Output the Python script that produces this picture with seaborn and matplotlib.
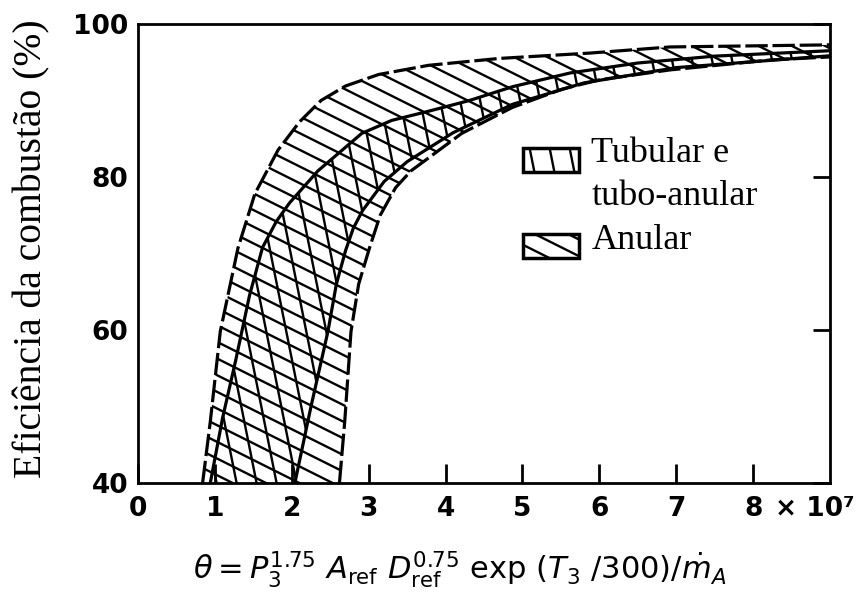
import warnings
import matplotlib
matplotlib.use("Agg")
import matplotlib.pyplot as plt
import matplotlib.hatch as mhatch
from matplotlib.path import Path
from matplotlib.patches import Patch, Rectangle
from matplotlib.legend_handler import HandlerPatch
import numpy as np
import seaborn as sns

warnings.filterwarnings("ignore", message=".*hatch must consist.*")

# band boundaries (theta in units of 1e7, efficiency in %)
anular_upper_theta = [0.84, 0.94, 1.07, 1.30, 1.52, 1.82, 2.10, 2.38, 2.70, 3.13, 3.78, 4.70, 5.88, 6.92, 9.2]
anular_upper_eff = [40, 48.0, 59.8, 70.7, 77.8, 83.5, 87.2, 90.0, 91.9, 93.4, 94.6, 95.5, 96.2, 97.0, 97.3]
anular_lower_theta = [2.62, 2.69, 2.77, 2.87, 3.01, 3.15, 3.35, 3.55, 3.78, 4.21, 4.87, 5.52, 6.0, 6.92, 8.23, 9.2]
anular_lower_eff = [40, 48.2, 59.8, 66.0, 70.7, 75.0, 78.6, 80.8, 82.5, 85.7, 89.1, 91.5, 92.7, 94.0, 95.3, 95.8]

tubular_upper_theta = [0.94, 1.10, 1.27, 1.45, 1.62, 1.80, 1.97, 2.34, 2.91, 3.30, 3.78, 4.31, 4.87, 5.62, 6.5, 7.5, 9.2]
tubular_upper_eff = [40, 48.5, 56.0, 64.5, 70.8, 74.2, 76.6, 80.8, 85.7, 87.4, 88.6, 90.0, 91.8, 93.6, 94.9, 95.8, 96.6]
tubular_lower_theta = [2.04, 2.25, 2.47, 2.58, 2.70, 2.80, 2.92, 3.20, 3.5, 4.1, 4.87, 5.8, 7.0, 9.2]
tubular_lower_eff = [40, 50, 59.8, 66.0, 70.4, 73.3, 75.6, 79.4, 82.0, 85.8, 89.5, 92.3, 94.3, 96.0]

x_ticks = [0, 1, 2, 3, 4, 5, 6, 7, 8]
y_ticks = [40, 60, 80, 100]
legend_labels = ["Tubular e", "tubo-anular", "Anular"]


# hatches with slopes matplotlib does not ship: 's' steep, 'h' shallow
class SteepHatch(mhatch.HatchPatternBase):
    def __init__(self, hatch, density):
        self.offsets = np.arange(-5, 11) / 5
        self.num_vertices = 2 * len(self.offsets) if "s" in hatch else 0

    def set_vertices_and_codes(self, vertices, codes):
        c = self.offsets
        vertices[0::2] = np.column_stack([c - 0.1, np.full(len(c), 1.5)])
        vertices[1::2] = np.column_stack([c + 0.3, np.full(len(c), -0.5)])
        codes[0::2] = Path.MOVETO
        codes[1::2] = Path.LINETO


class ShallowHatch(mhatch.HatchPatternBase):
    def __init__(self, hatch, density):
        self.offsets = np.arange(-6, 15) / 6
        self.num_vertices = 2 * len(self.offsets) if "h" in hatch else 0

    def set_vertices_and_codes(self, vertices, codes):
        c = self.offsets
        vertices[0::2] = np.column_stack([np.full(len(c), -0.5), c + 0.25])
        vertices[1::2] = np.column_stack([np.full(len(c), 1.5), c - 0.75])
        codes[0::2] = Path.MOVETO
        codes[1::2] = Path.LINETO


mhatch._hatch_types.extend([SteepHatch, ShallowHatch])


def lowered_box(legend, orig_handle, xdescent, ydescent, width, height, fontsize):
    # legend swatch sits on the text baseline, as in the source figure
    return Rectangle((-xdescent, -ydescent - 0.28 * fontsize), width, height)


sns.set_style("ticks")
plt.rcParams["font.family"] = ["DejaVu Sans"]
plt.rcParams["text.color"] = "black"
plt.rcParams["axes.labelcolor"] = "black"
plt.rcParams["hatch.linewidth"] = 1.7
plt.rcParams["hatch.color"] = "black"

fig = plt.figure(figsize=(8.65, 5.92), dpi=100)
ax = fig.add_axes([138 / 865, 1 - 483 / 592, 692 / 865, 459 / 592])

# hatched bands
ax.fill(anular_upper_theta + anular_lower_theta[::-1],
        anular_upper_eff + anular_lower_eff[::-1],
        facecolor="none", edgecolor="black", linewidth=0, hatch="h", zorder=1)
ax.fill(tubular_upper_theta + tubular_lower_theta[::-1],
        tubular_upper_eff + tubular_lower_eff[::-1],
        facecolor="none", edgecolor="black", linewidth=0, hatch="s", zorder=1)

# boundaries: dashed outer, solid inner
curves = [
    (anular_upper_theta, anular_upper_eff, (0, (7, 1.5))),
    (anular_lower_theta, anular_lower_eff, (0, (7, 1.5))),
    (tubular_upper_theta, tubular_upper_eff, "-"),
    (tubular_lower_theta, tubular_lower_eff, "-"),
]
for th, ef, ls in curves:
    sns.lineplot(x=th, y=ef, ax=ax, color="black", linewidth=2.3, linestyle=ls,
                 estimator=None, sort=False, legend=False, zorder=2)

ax.set_xlim(0, 9)
ax.set_ylim(40, 100)
ax.set_xticks(x_ticks)
ax.set_xticklabels([str(t) for t in x_ticks])
ax.set_yticks(y_ticks)
ax.tick_params(axis="x", direction="in", length=14, width=2, pad=9, top=False,
               labelsize=19, colors="black")
ax.tick_params(axis="y", direction="in", length=12, width=2, pad=7, left=False,
               right=True, labelsize=19, colors="black")
plt.setp(ax.get_xticklabels() + ax.get_yticklabels(), fontweight="bold")
for s in ax.spines.values():
    s.set_linewidth(2)
    s.set_color("black")

ax.annotate("× 10⁷", xy=(8, 0), xycoords=("data", "axes fraction"),
            xytext=(16, -9), textcoords="offset points", ha="left", va="top",
            fontsize=19, fontweight="bold")

ax.set_xlabel(r"$\theta = P_3^{1.75}\ A_{\rm ref}\ D_{\rm ref}^{0.75}\ {\rm exp}\ (T_3\ /300)/\dot{m}_A$",
              fontsize=22)
ax.xaxis.set_label_coords(0.465, -0.143)
ax.set_ylabel("Eficiência da combustão (%)", fontsize=28.5, family="Liberation Serif")
ax.yaxis.set_label_coords(-0.127, 0.511)

handles = [
    Patch(facecolor="white", edgecolor="black", hatch="s", linewidth=2.5),
    Patch(facecolor="none", edgecolor="none"),
    Patch(facecolor="white", edgecolor="black", hatch="h", linewidth=2.5),
]
ax.legend(handles, legend_labels, loc="upper left", bbox_to_anchor=(0.556, 0.753),
          frameon=False, prop={"family": "Liberation Serif", "size": 26},
          handlelength=1.55, handleheight=0.65, handletextpad=0.35,
          labelspacing=0.28, borderpad=0, borderaxespad=0,
          handler_map={Patch: HandlerPatch(patch_func=lowered_box)})

fig.savefig("out.png", dpi=100, facecolor="white")
